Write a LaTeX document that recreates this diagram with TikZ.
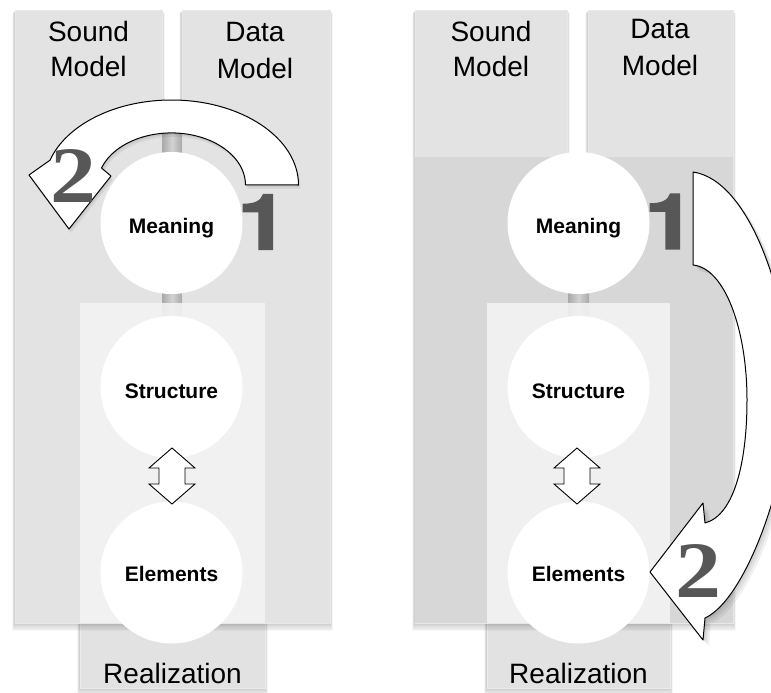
\documentclass[tikz,border=0pt]{standalone}
\usepackage{fontspec}
\setmainfont{Liberation Sans}
\newfontfamily\digitserif{Liberation Serif}
\newfontfamily\heavysans{TeX Gyre Heros}[FakeBold=2]
\definecolor{colfill}{HTML}{E3E3E3}
\definecolor{bandfill}{HTML}{D7D7D7}
\definecolor{realfill}{HTML}{E2E2E2}
\definecolor{veilfill}{HTML}{F4F4F4}
\definecolor{digitgray}{HTML}{575757}
\definecolor{barmid}{HTML}{D2D2D2}
\definecolor{baredge}{HTML}{A9A9A9}

% soft drop shadow under a box: x1 y1 x2 y2 (y grows downwards)
\newcommand\softshadow[4]{%
  \foreach \d in {1,...,7}{%
    \fill[black,opacity=0.03] (#1-0.4*\d,#2+0.5*\d) rectangle (#3+0.4*\d,#4+1.1*\d);}}

% small two-headed block arrow centred on x = #1
\newcommand\swaparrow[1]{%
  \path[swapsign] (#1,448) -- (#1+23,468) -- (#1+13,468) -- (#1+13,484)
    -- (#1+23,484) -- (#1,504) -- (#1-23,484) -- (#1-13,484)
    -- (#1-13,468) -- (#1-23,468) -- cycle;}

% curved block arrow looping over the top circle
\def\loopoverpath{(298.5,185) arc[start angle=0, end angle=-163, x radius=127, y radius=85]
  -- (29,175) -- (69,229) -- (111,176) -- (101.5,168)
  arc[start angle=-161, end angle=0, x radius=74, y radius=52] -- cycle}

% curved block arrow running down the right side
\def\sidesweeppath{(693,172) .. controls (750,180) and (790,300) .. (790,390)
  .. controls (790,480) and (745,600) .. (705,618) -- (703,640) -- (650,572)
  -- (703,503) -- (705,523) .. controls (735,515) and (747,460) .. (747,400)
  .. controls (747,330) and (725,268) .. (693,265) -- cycle}

\tikzset{
  panel/.style={fill=colfill, draw=black!9, line width=0.5pt},
  realbox/.style={fill=realfill, draw=black!8, line width=0.5pt},
  veil/.style={fill=veilfill, opacity=0.88},
  axisbar/.style={left color=baredge, right color=baredge, middle color=barmid},
  bubble/.style={circle, fill=white, minimum size=142pt, inner sep=0pt},
  bubbletext/.style={font=\fontsize{21}{24}\selectfont\bfseries, anchor=base, inner sep=0pt},
  header/.style={font=\fontsize{28}{34}\selectfont, anchor=base, inner sep=0pt},
  bigarrow/.style={fill=white, draw=black, line width=1pt, line join=round},
  swapsign/.style={fill=white, draw=black, line width=0.9pt, line join=miter},
  arrowshade/.style={fill=black, opacity=0.06},
  stepone/.style={font=\heavysans\bfseries\fontsize{77}{77}\selectfont, text=digitgray, inner sep=0pt},
  steptwo/.style={font=\digitserif\bfseries\fontsize{80}{80}\selectfont, text=digitgray, inner sep=0pt},
}

\begin{document}
\begin{tikzpicture}[x=1pt,y=-1pt]
\useasboundingbox (0,0) rectangle (771,693);
\fill[white] (0,0) rectangle (771,693);

% ================= left panel =================
\softshadow{80}{303}{265}{688}
\path[realbox] (80,303) rectangle (265,688);
\softshadow{15}{10}{162}{623}
\softshadow{182}{10}{330}{623}
\path[panel] (15,10) rectangle (162,623);
\path[panel] (182,10) rectangle (330,623);
\shade[axisbar] (162,118) rectangle (182,545);
\fill[veil] (80,303) rectangle (265,623);

\node[bubble] (meanL) at (171.5,223) {};
\node[bubble] (strL)  at (171.5,387) {};
\node[bubble] (eleL)  at (171.5,572.5) {};
\swaparrow{172}

\foreach \s in {2,4}{\fill[arrowshade, shift={(\s*0.5,\s)}] \loopoverpath;}
\path[bigarrow] \loopoverpath;

\node[stepone] (oneL) at (263,222) {\scalebox{1.2}[1]{1}};
\node[steptwo] (twoL) at (73.5,176.5) {\scalebox{1.15}[1]{2}};

\node[header] (sndL1) at (88.5,42) {Sound};
\node[header] (sndL2) at (88.5,77) {Model};
\node[header] (datL1) at (255,42) {Data};
\node[header] (datL2) at (255,78) {Model};
\node[header] (realL) at (172.5,683) {Realization};
\node[bubbletext] (meanLt) at (171.5,233) {Meaning};
\node[bubbletext] (strLt)  at (171.5,398) {Structure};
\node[bubbletext] (eleLt)  at (171.5,581.5) {Elements};

% ================= right panel =================
\softshadow{487}{303}{670}{688}
\path[realbox] (487,303) rectangle (670,688);
\softshadow{415}{10}{567}{623}
\softshadow{588}{10}{733}{623}
\path[panel] (415,10) rectangle (567,623);
\path[panel] (588,10) rectangle (733,623);
\fill[bandfill] (415,157) rectangle (733,623);
\shade[axisbar] (568,223) rectangle (589,545);
\fill[veil] (487,303) rectangle (670,623);

\node[bubble] (meanR) at (578.5,223) {};
\node[bubble] (strR)  at (578.5,387) {};
\node[bubble] (eleR)  at (578.5,572.5) {};
\swaparrow{577}

\node[stepone] (oneR) at (670,221.5) {\scalebox{1.2}[1]{1}};

\foreach \s in {2,4,6}{\fill[arrowshade, shift={(\s,\s)}] \sidesweeppath;}
\path[bigarrow] \sidesweeppath;

\node[steptwo] (twoR) at (698.5,571.5) {\scalebox{1.15}[1]{2}};

\node[header] (sndR1) at (491,42) {Sound};
\node[header] (sndR2) at (491,77) {Model};
\node[header] (datR1) at (660,39) {Data};
\node[header] (datR2) at (660,75) {Model};
\node[header] (realR) at (578.5,683) {Realization};
\node[bubbletext] (meanRt) at (578.5,233) {Meaning};
\node[bubbletext] (strRt)  at (578.5,398) {Structure};
\node[bubbletext] (eleRt)  at (578.5,581.5) {Elements};
\end{tikzpicture}
\end{document}
